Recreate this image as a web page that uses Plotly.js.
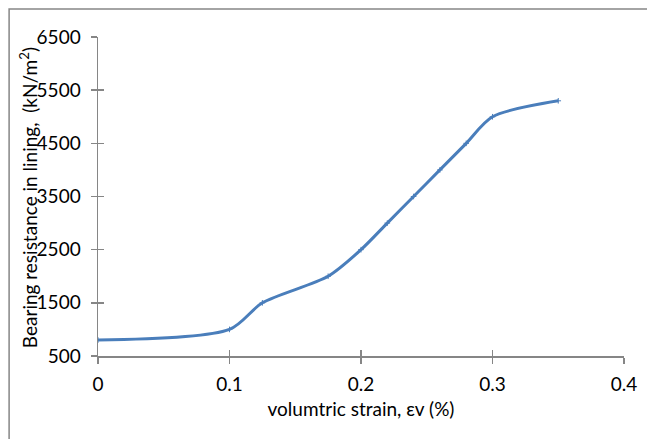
<!DOCTYPE html>
<html>
<head>
<meta charset="utf-8">
<script src="https://cdn.plot.ly/plotly-3.0.1.min.js"></script>
<style>html,body{margin:0;padding:0;background:#fff;}#chart{width:647px;height:439px;}</style>
</head>
<body>
<div id="chart"></div>
<script>
// Data
const strain = [0, 0.1, 0.125, 0.175, 0.2, 0.22, 0.24, 0.26, 0.28, 0.3, 0.35];
const resistance = [800, 1000, 1500, 2000, 2500, 3000, 3500, 4000, 4500, 5000, 5300];
const xTicks = [0, 0.1, 0.2, 0.3, 0.4];
const xTickText = ['0', '0.1', '0.2', '0.3', '0.4'];
const yTicks = [500, 1500, 2500, 3500, 4500, 5500, 6500];
const yTickText = ['500', '1500', '2500', '3500', '4500', '5500', '6500'];
const xTitle = 'volumtric strain, εv (%)';
const yTitle = 'Bearing resistance in lining,  (kN/m<sup>2</sup>)';

const FONT = 'Lato, "Open Sans", "DejaVu Sans", sans-serif';
const AX = '#868686';

const trace = {
  x: strain, y: resistance, type: 'scatter', mode: 'lines+markers',
  line: {color: '#4a7ebb', width: 3, shape: 'spline', smoothing: 0.8},
  marker: {symbol: 'cross-thin', size: 4, line: {color: '#4a7ebb', width: 1}, color: '#4a7ebb'},
  hoverinfo: 'x+y'
};
// invisible helper trace on overlay axes to give "cross" tick marks
const helper = {x: [0], y: [500], xaxis: 'x2', yaxis: 'y2', type: 'scatter', mode: 'markers', marker: {opacity: 0}, hoverinfo: 'skip'};

const axCommon = {showgrid: false, zeroline: false, showline: true, linecolor: AX, linewidth: 1.5,
  tickcolor: AX, tickwidth: 1.5, fixedrange: true};

const layout = {
  width: 647, height: 439,
  margin: {l: 98, r: 23, t: 37, b: 83},
  paper_bgcolor: '#fff', plot_bgcolor: '#fff',
  showlegend: false,
  font: {family: FONT, size: 19, color: '#000'},
  xaxis: Object.assign({}, axCommon, {range: [0, 0.4], tickmode: 'array', tickvals: xTicks, ticktext: xTickText,
    ticks: 'outside', ticklen: 6, ticklabelstandoff: 5,
    title: {text: xTitle, font: {family: FONT, size: 19}, standoff: 8}}),
  yaxis: Object.assign({}, axCommon, {range: [500, 6500], tickmode: 'array', tickvals: yTicks, ticktext: yTickText,
    ticks: 'outside', ticklen: 6, ticklabelstandoff: 6}),
  xaxis2: Object.assign({}, axCommon, {overlaying: 'x', range: [0, 0.4], tickmode: 'array', tickvals: xTicks,
    ticks: 'inside', ticklen: 6, showticklabels: false, anchor: 'y2', side: 'bottom'}),
  yaxis2: Object.assign({}, axCommon, {overlaying: 'y', range: [500, 6500], tickmode: 'array', tickvals: yTicks,
    ticks: 'inside', ticklen: 6, showticklabels: false, anchor: 'x2', side: 'left'}),
  annotations: [{
    text: yTitle, textangle: -90, xref: 'paper', yref: 'paper', x: -0.133, y: 0.495,
    xanchor: 'center', yanchor: 'middle', showarrow: false, font: {family: FONT, size: 19, color: '#000'}
  }],
  shapes: [{
    type: 'rect', xref: 'paper', yref: 'paper', x0: -0.169, x1: 1.2, y0: -0.5, y1: 1.088,
    line: {color: AX, width: 1.5}, fillcolor: 'rgba(0,0,0,0)', layer: 'below'
  }]
};

Plotly.newPlot('chart', [helper, trace], layout, {displayModeBar: false, staticPlot: true});
</script>
</body>
</html>
